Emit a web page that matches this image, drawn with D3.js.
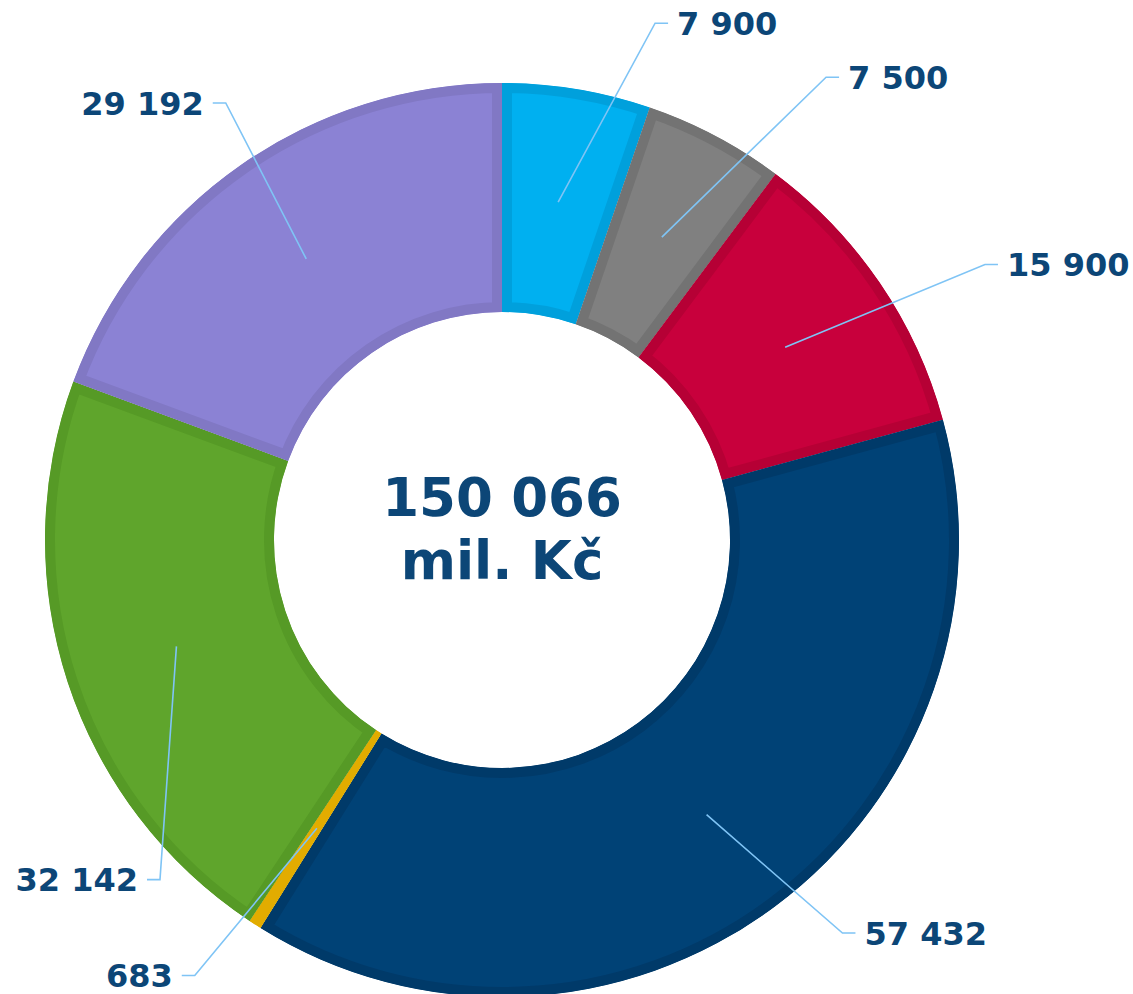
<!DOCTYPE html>
<html>
<head>
<meta charset="utf-8">
<script src="https://cdn.jsdelivr.net/npm/d3@7"></script>
<style>
  html, body { margin: 0; padding: 0; background: #fff; }
  #chart { width: 1133px; height: 994px; overflow: hidden; }
</style>
</head>
<body>
<div id="chart"></div>
<script>
// data (clockwise from 12 o'clock)
var values = [7900, 7500, 15900, 57432, 683, 32142, 29192];
var labels = ["7 900", "7 500", "15 900", "57 432", "683", "32 142", "29 192"];
var fills = ["#00b0f0", "#808080", "#c8003c", "#004276", "#e2ac00", "#5fa52c", "#8b82d4"];
var strokes = ["#00a0dc", "#737373", "#b60035", "#003a69", "#e2ac00", "#569a26", "#8178c4"];
var totalText = ["150 066", "mil. Kč"];

// label elbow placement (angle in degrees, distance from centre)
var labelAngle = [16.5, 35.0, 60.3, 139.1, 215.2, 225.2, 327.7];
var labelRadius = [539, 565, 556, 520, 533, 482, 517];

var width = 1133, height = 994;
var cx = 502, cy = 540;
var outerR = 457, innerR = 228;
var border = 10;

var svg = d3.select("#chart").append("svg")
    .attr("width", width)
    .attr("height", height)
    .style("font-family", "'DejaVu Sans', Verdana, sans-serif");

var g = svg.append("g").attr("transform", "translate(" + cx + "," + cy + ")");

var pie = d3.pie().sort(null).value(d => d);
var arcs = pie(values);

var arc = d3.arc().innerRadius(innerR).outerRadius(outerR);
var midArc = d3.arc().innerRadius(innerR).outerRadius(outerR);

var defs = svg.append("defs");
arcs.forEach(function (a, i) {
    defs.append("clipPath").attr("id", "clip" + i)
        .append("path").attr("d", arc(a));
});

// slices with inner border
g.selectAll("path.slice")
    .data(arcs)
    .enter().append("path")
    .attr("class", "slice")
    .attr("d", arc)
    .attr("fill", (d, i) => fills[i])
    .attr("stroke", (d, i) => strokes[i])
    .attr("stroke-width", border * 2)
    .attr("stroke-linejoin", "miter")
    .attr("clip-path", (d, i) => "url(#clip" + i + ")");

// leader lines and labels
var toRad = Math.PI / 180;
arcs.forEach(function (a, i) {
    var c = midArc.centroid(a);
    var ang = labelAngle[i] * toRad;
    var ex = Math.sin(ang) * labelRadius[i];
    var ey = -Math.cos(ang) * labelRadius[i];
    var right = ex > 0;
    var hx = ex + (right ? 13 : -13);

    g.append("polyline")
        .attr("points", [c, [ex, ey], [hx, ey]].map(p => p.join(",")).join(" "))
        .attr("fill", "none")
        .attr("stroke", "#7fc4f5")
        .attr("stroke-width", 1.6);

    g.append("text")
        .attr("x", hx + (right ? 9 : -9))
        .attr("y", ey)
        .attr("dy", "0.36em")
        .attr("text-anchor", right ? "start" : "end")
        .attr("font-size", 32)
        .attr("font-weight", "bold")
        .attr("fill", "#0c4677")
        .text(labels[i]);
});

// centre total
g.selectAll("text.total")
    .data(totalText)
    .enter().append("text")
    .attr("class", "total")
    .attr("x", 0)
    .attr("y", (d, i) => -24 + i * 63)
    .attr("text-anchor", "middle")
    .attr("font-size", 53)
    .attr("font-weight", "bold")
    .attr("fill", "#0c4677")
    .text(d => d);
</script>
</body>
</html>
